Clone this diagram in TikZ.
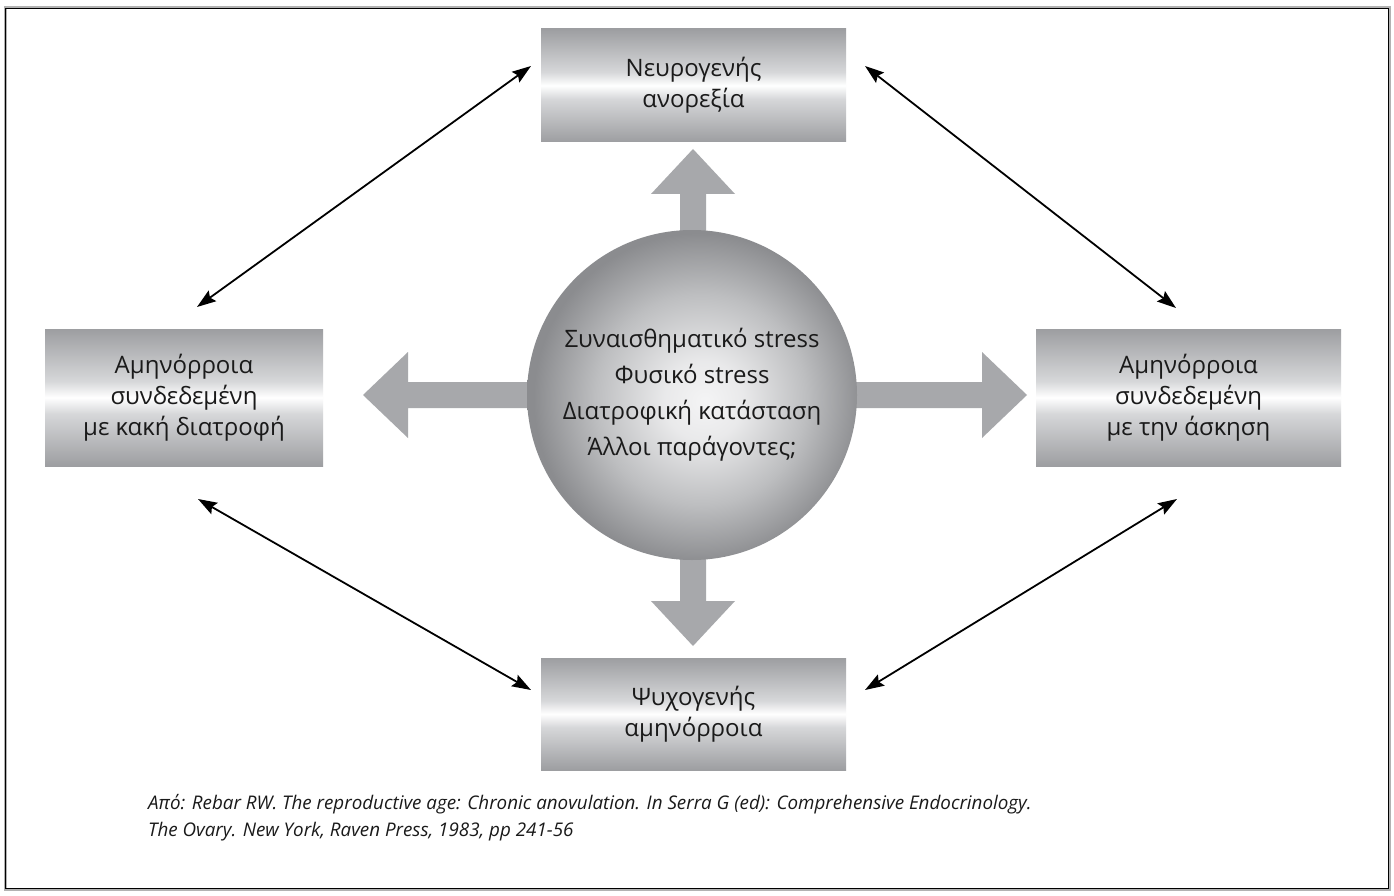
\documentclass[tikz,border=0pt]{standalone}
\usepackage{fontspec}
\setmainfont{Open Sans}
\usetikzlibrary{arrows.meta,shapes.geometric}
\definecolor{boxgray}{HTML}{9D9EA1}
\definecolor{boxlight}{HTML}{D6D7D9}
\definecolor{arrgray}{HTML}{A7A8AB}
\definecolor{ballgray}{HTML}{8B8C8F}
\definecolor{ballmid}{HTML}{BDBEC0}
\definecolor{ballcore}{HTML}{F4F4F5}
\definecolor{textc}{HTML}{1A1A1A}
\pgfdeclareverticalshading{boxshade}{100bp}{color(0bp)=(boxgray); color(25bp)=(boxgray); color(44bp)=(boxlight); color(50bp)=(white); color(56bp)=(boxlight); color(75bp)=(boxgray); color(100bp)=(boxgray)}
\pgfdeclareradialshading{ballshade}{\pgfpoint{2bp}{-1bp}}{color(0bp)=(ballcore); color(6bp)=(ballcore!80!ballmid); color(16bp)=(ballmid); color(25bp)=(ballgray); color(50bp)=(ballgray)}
\begin{document}
\begin{tikzpicture}[x=1pt,y=-1pt,
  gbox/.style={rectangle, shading=boxshade, align=center, text=textc, inner sep=0pt,
    font=\fontsize{24}{31}\selectfont},
  blockarrow/.style={fill=arrgray, draw=none},
  thinarrow/.style={line width=1.8pt, {Stealth[length=19pt,width=13pt,inset=3pt]}-{Stealth[length=19pt,width=13pt,inset=3pt]}},
  captext/.style={anchor=base west, text=textc, font=\itshape\fontsize{18.8}{27}\selectfont, inner sep=0pt}
]
\useasboundingbox (0,0) rectangle (1394,896);
\fill[white] (0,0) rectangle (1394,896);
% frame
\draw[line width=3pt, gray!60] (5,8) rectangle (1389,889);
\draw[line width=1.6pt, black] (5.5,8.5) rectangle (1388.5,888.5);

% block arrows (drawn below the circle)
\fill[blockarrow] (680,250) -- (680,194) -- (651,194) -- (693,149) -- (735,194) -- (706,194) -- (706,250) -- cycle;
\fill[blockarrow] (680,540) -- (680,601) -- (651,601) -- (693,646) -- (735,601) -- (706,601) -- (706,540) -- cycle;
\fill[blockarrow] (540,382) -- (408,382) -- (408,352) -- (363,395) -- (408,438) -- (408,408) -- (540,408) -- cycle;
\fill[blockarrow] (845,382) -- (982,382) -- (982,352) -- (1027,395) -- (982,438) -- (982,408) -- (845,408) -- cycle;

% centre circle
\node[circle, minimum size=330pt, inner sep=0pt, shading=ballshade, align=center, text=textc,
  font=\fontsize{24}{36}\selectfont] (ball) at (692,395)
  {Συναισθηματικό stress\\Φυσικό stress\\Διατροφική κατάσταση\\Άλλοι παράγοντες;};

% boxes
\node[gbox, minimum width=305pt, minimum height=113pt] (top) at (693.5,85.5) {Νευρογενής\\ανορεξία};
\node[gbox, minimum width=278pt, minimum height=137pt] (left) at (184,397.5) {Αμηνόρροια\\συνδεδεμένη\\με κακή διατροφή};
\node[gbox, minimum width=305pt, minimum height=137pt] (right) at (1188.5,397.5) {Αμηνόρροια\\συνδεδεμένη\\με την άσκηση};
\node[gbox, minimum width=305pt, minimum height=112pt] (bottom) at (693.5,714) {Ψυχογενής\\αμηνόρροια};

% thin double arrows
\coordinate (tlA) at (197,307);
\coordinate (tlB) at (531,66);
\coordinate (trA) at (865,66);
\coordinate (trB) at (1176,308);
\coordinate (blA) at (198,499);
\coordinate (blB) at (531,690);
\coordinate (brA) at (865,690);
\coordinate (brB) at (1177,499);
\draw[thinarrow] (tlA) -- (tlB);
\draw[thinarrow] (trA) -- (trB);
\draw[thinarrow] (blA) -- (blB);
\draw[thinarrow] (brA) -- (brB);

% caption
\node[captext] (cap1) at (148,809) {Από: Rebar RW. The reproductive age: Chronic anovulation. In Serra G (ed): Comprehensive Endocrinology.};
\node[captext] (cap2) at (148,836) {The Ovary. New York, Raven Press, 1983, pp 241-56};
\end{tikzpicture}
\end{document}
